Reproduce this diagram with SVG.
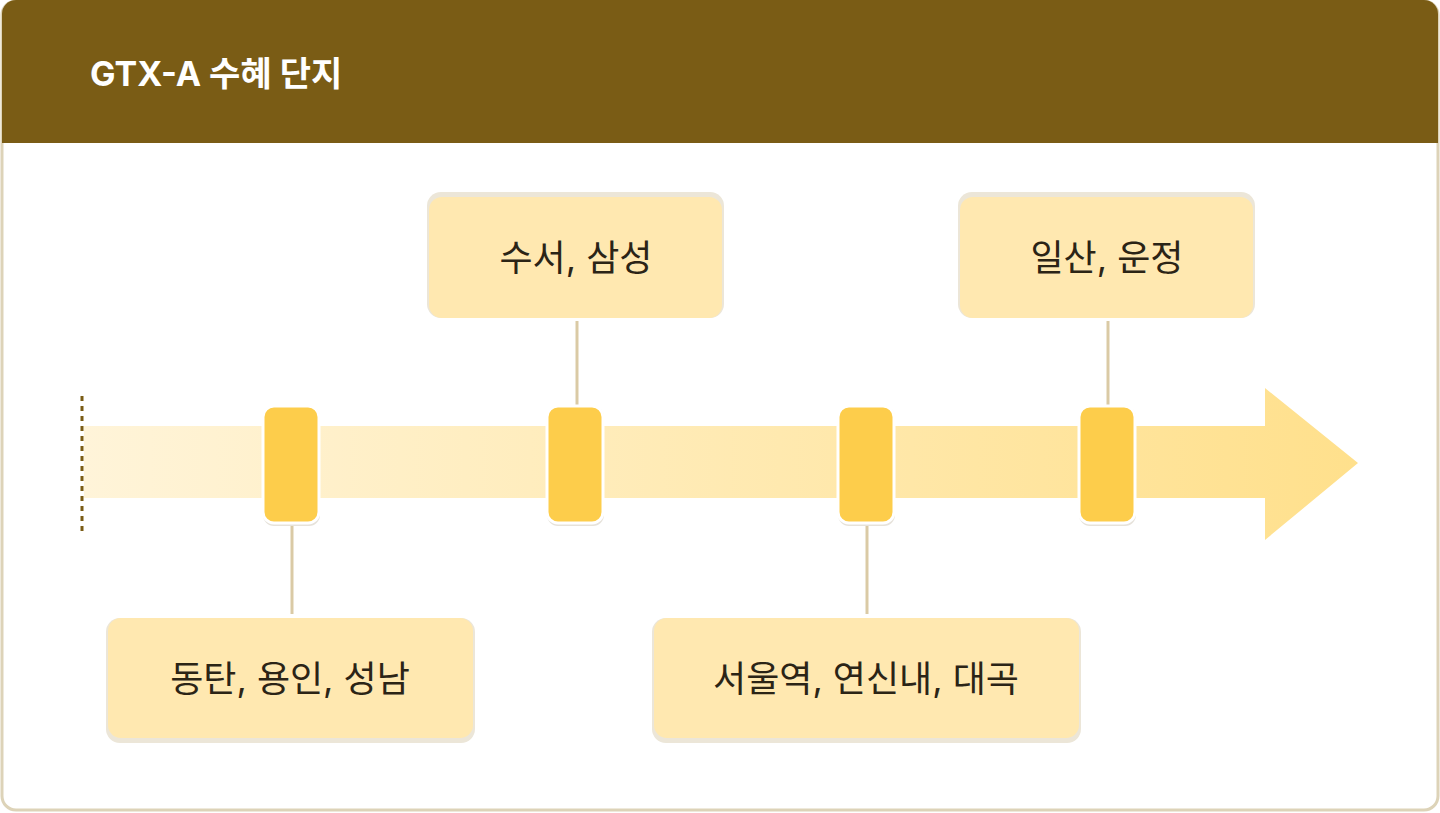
<svg xmlns="http://www.w3.org/2000/svg" width="1440" height="813" viewBox="0 0 1440 813">
<style>
.lbl{font-family:"Inter","Noto Sans CJK KR",sans-serif;font-size:36px;fill:#2b2416;text-anchor:middle}
.box{fill:#ffe8b0}
.mk{fill:#fdcd4b;stroke:#fff;stroke-width:3}
.ln{stroke:#dacaa5;stroke-width:3}
</style>
<defs>
<linearGradient id="g" x1="84" y1="0" x2="1358" y2="0" gradientUnits="userSpaceOnUse">
<stop offset="0" stop-color="#fff4d9"/><stop offset="1" stop-color="#ffe08c"/>
</linearGradient>
<clipPath id="c"><rect x="2" y="0" width="1436" height="811" rx="14"/></clipPath>
</defs>
<rect x="2" y="1" width="1436" height="809" rx="14" fill="#fff" stroke="#ddd3b8" stroke-width="3"/>
<rect x="0" y="0" width="1440" height="143" fill="#7a5c15" clip-path="url(#c)"/>
<text x="90" y="86" style="font-family:'Inter','Noto Sans CJK KR',sans-serif;font-size:34px;font-weight:700;fill:#fff">GTX-A 수혜 단지</text>
<g id="timeline">
<path d="M84 426H1265V388L1358 463L1265 540V498H84Z" fill="url(#g)"/>
<line x1="82" y1="396" x2="82" y2="532" stroke="#7a5c15" stroke-width="3" stroke-dasharray="5 5"/>
</g>
<g id="connectors">
<line class="ln" x1="577" y1="321" x2="577" y2="408"/>
<line class="ln" x1="1108" y1="321" x2="1108" y2="405"/>
<line class="ln" x1="292" y1="524" x2="292" y2="614"/>
<line class="ln" x1="867" y1="524" x2="867" y2="614"/>
</g>
<g id="markers">
<rect x="263" y="406" width="57" height="120" rx="11" fill="#e6e2da"/>
<rect class="mk" x="263" y="406" width="56" height="117" rx="11"/>
<rect x="547" y="406" width="57" height="120" rx="11" fill="#e6e2da"/>
<rect class="mk" x="547" y="406" width="56" height="117" rx="11"/>
<rect x="838" y="406" width="57" height="120" rx="11" fill="#e6e2da"/>
<rect class="mk" x="838" y="406" width="56" height="117" rx="11"/>
<rect x="1079" y="406" width="57" height="120" rx="11" fill="#e6e2da"/>
<rect class="mk" x="1079" y="406" width="56" height="117" rx="11"/>
</g>
<g id="n1"><rect x="427" y="192" width="297" height="126" rx="14" fill="#ece6d8"/><rect class="box" x="429" y="197" width="293" height="121" rx="13"/><text class="lbl" x="576" y="271">수서, 삼성</text></g>
<g id="n2"><rect x="958" y="192" width="297" height="126" rx="14" fill="#ece6d8"/><rect class="box" x="960" y="197" width="293" height="121" rx="13"/><text class="lbl" x="1107" y="271">일산, 운정</text></g>
<g id="n3"><rect x="106" y="618" width="369" height="125" rx="14" fill="#ece6d8"/><rect class="box" x="108" y="618" width="365" height="120" rx="13"/><text class="lbl" x="290" y="692">동탄, 용인, 성남</text></g>
<g id="n4"><rect x="652" y="618" width="429" height="125" rx="14" fill="#ece6d8"/><rect class="box" x="654" y="618" width="425" height="120" rx="13"/><text class="lbl" x="866" y="692">서울역, 연신내, 대곡</text></g>
</svg>
